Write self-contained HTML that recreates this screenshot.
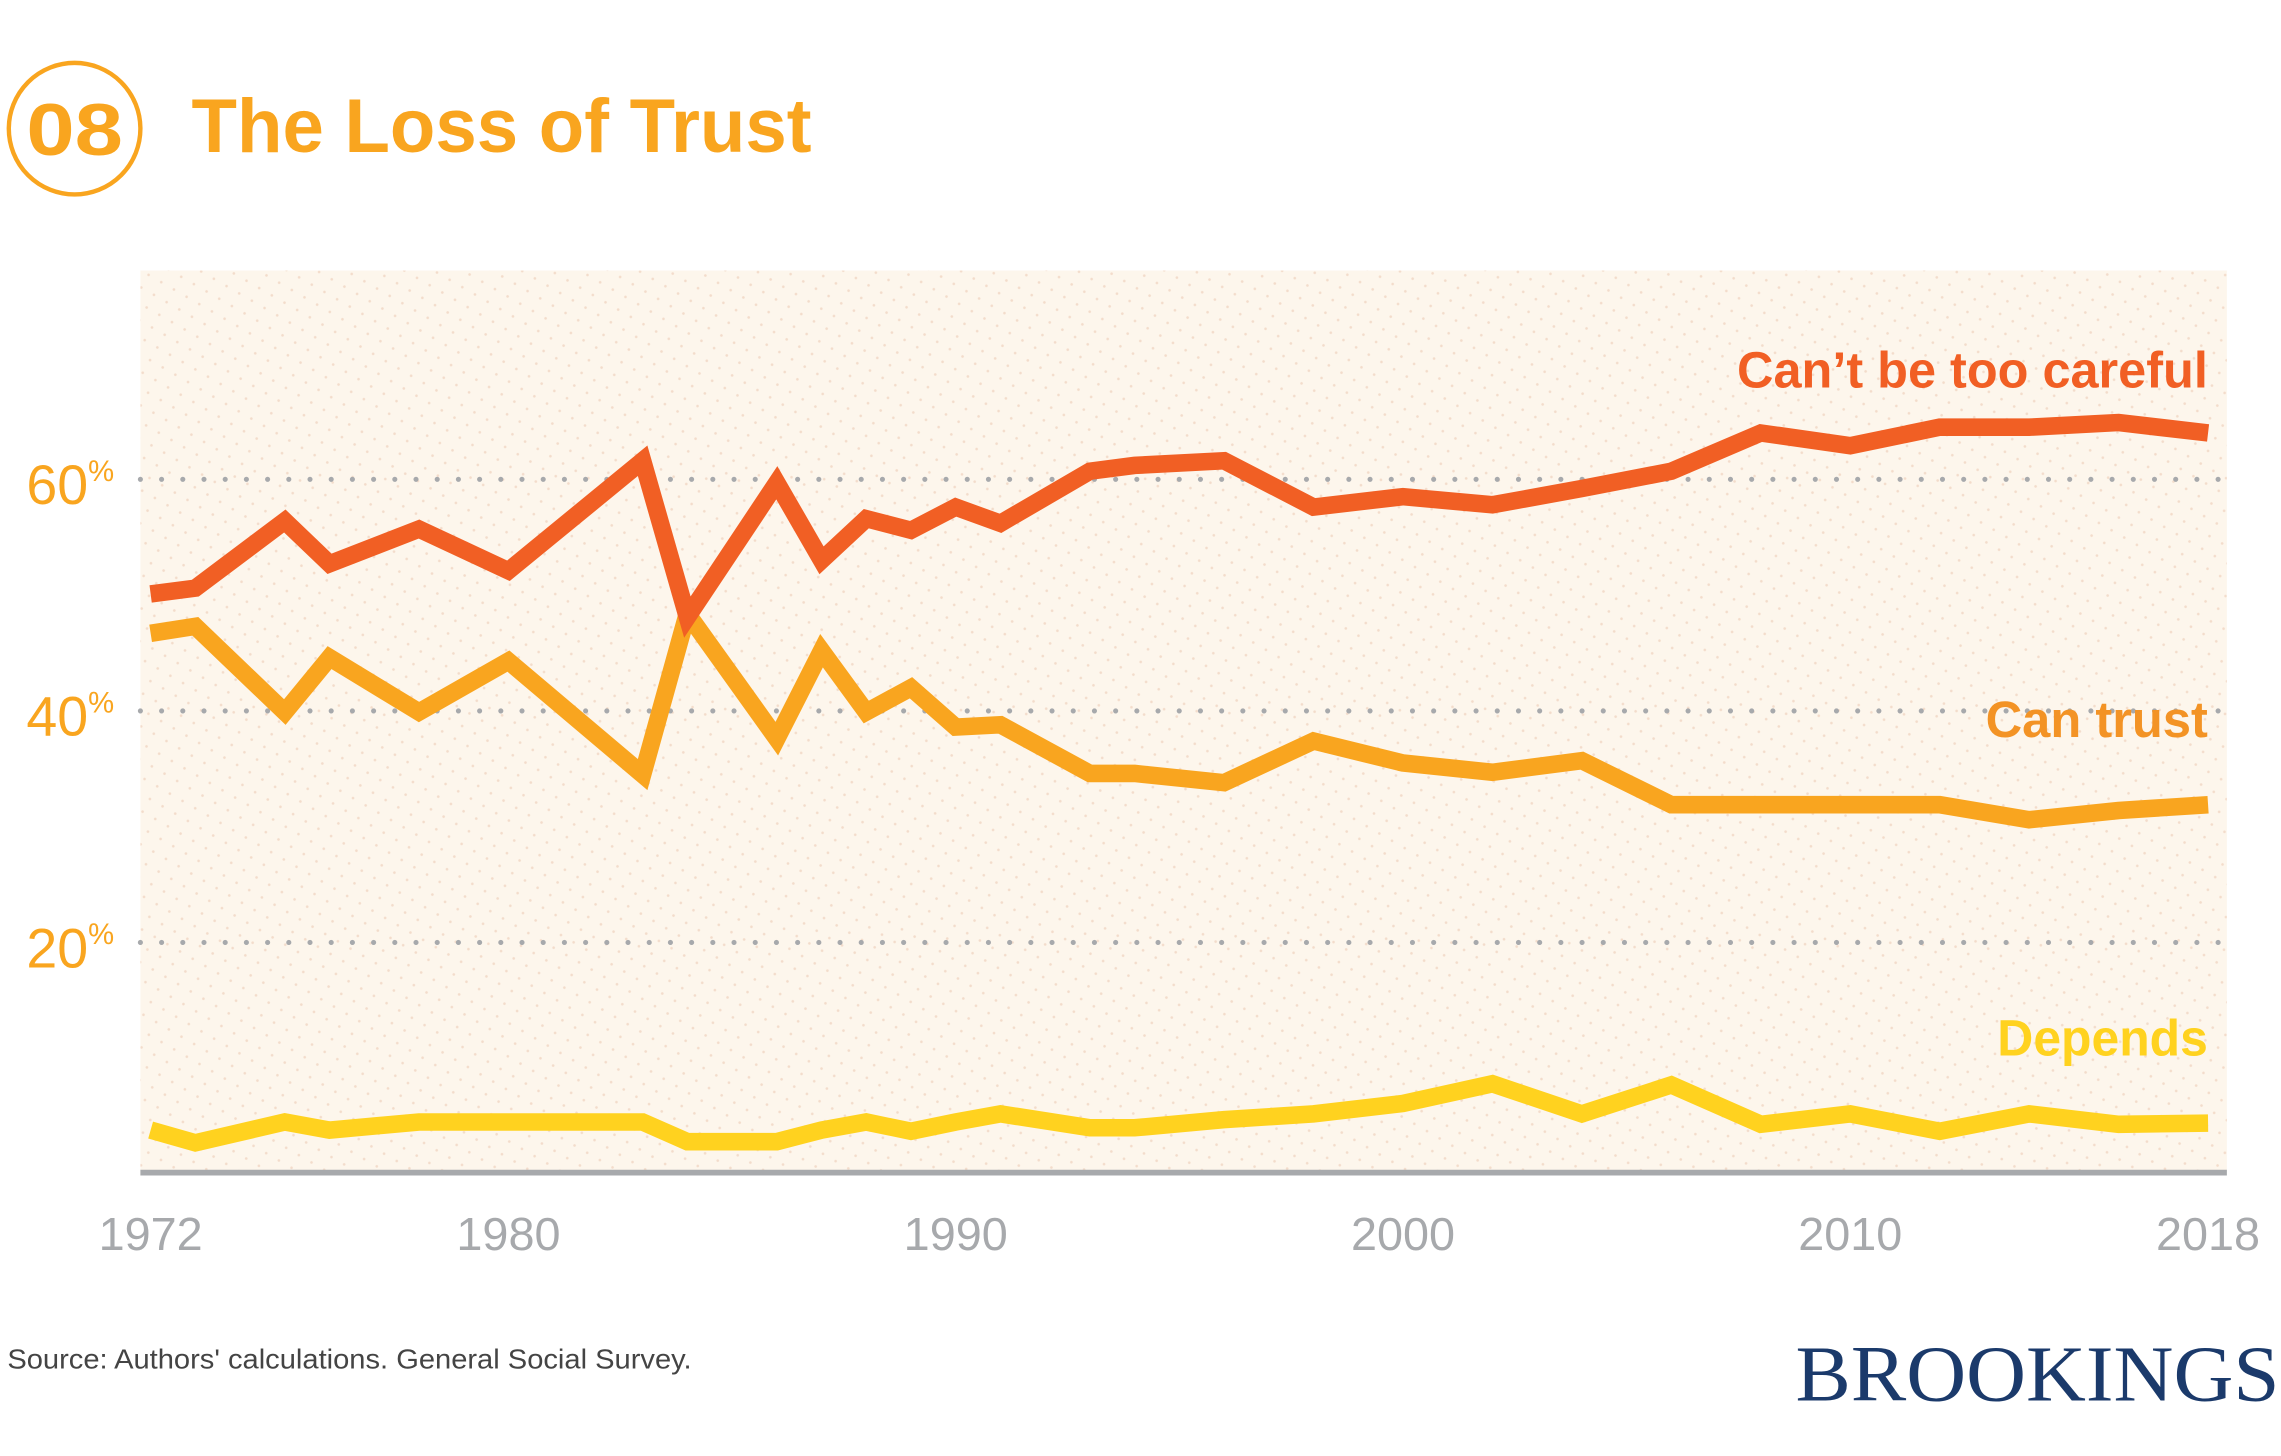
<!DOCTYPE html>
<html><head><meta charset="utf-8"><style>
html,body{margin:0;padding:0;background:#fff;}
svg{display:block;}
</style></head><body>
<svg id="chart" width="2281" height="1456" viewBox="0 0 1560 995.8" xmlns="http://www.w3.org/2000/svg">
<defs>
<pattern id="dots" width="10" height="10" patternUnits="userSpaceOnUse" patternTransform="rotate(30)">
<circle cx="2" cy="2" r="0.9" fill="#f3dccb"/>
</pattern>
</defs>
<circle cx="51" cy="88" r="45" fill="none" stroke="#F9A51F" stroke-width="3"/>
<text x="51" y="106" text-anchor="middle" font-family="Liberation Sans, sans-serif" font-weight="bold" font-size="50" fill="#F9A51F" textLength="66" lengthAdjust="spacingAndGlyphs">08</text>
<text x="131" y="104" font-family="Liberation Sans, sans-serif" font-weight="bold" font-size="52" fill="#F9A51F" textLength="424" lengthAdjust="spacingAndGlyphs">The Loss of Trust</text>
<rect x="96" y="185" width="1427" height="616" fill="#FDF6EC"/>
<rect x="96" y="185" width="1427" height="616" fill="url(#dots)"/>
<g id="grid"></g>
<g id="ylabels"></g>
<line x1="96" x2="1523" y1="802" y2="802" stroke="#a7a9ac" stroke-width="4"/>
<g id="xlabels"></g>
<g id="series"></g>
<text x="1510" y="265" text-anchor="end" font-family="Liberation Sans, sans-serif" font-weight="bold" font-size="35" fill="#F15F24" textLength="322" lengthAdjust="spacingAndGlyphs">Can’t be too careful</text>
<text x="1510" y="504" text-anchor="end" font-family="Liberation Sans, sans-serif" font-weight="bold" font-size="35" fill="#F39325" textLength="152" lengthAdjust="spacingAndGlyphs">Can trust</text>
<text x="1510" y="722" text-anchor="end" font-family="Liberation Sans, sans-serif" font-weight="bold" font-size="35" fill="#FFD21F" textLength="144" lengthAdjust="spacingAndGlyphs">Depends</text>
<text x="5" y="936" font-family="Liberation Sans, sans-serif" font-size="19" fill="#444" textLength="468" lengthAdjust="spacingAndGlyphs">Source: Authors' calculations. General Social Survey.</text>
<text x="1228" y="958" font-family="Liberation Serif, serif" font-size="54" fill="#1B3A6B" textLength="331" lengthAdjust="spacingAndGlyphs">BROOKINGS</text>
</svg>
<script>
const years = [1972,1973,1975,1976,1978,1980,1983,1984,1986,1987,1988,1989,1990,1991,1993,1994,1996,1998,2000,2002,2004,2006,2008,2010,2012,2014,2016,2018];
const cantBeTooCareful = [50.1,50.6,56.4,52.7,55.7,52.1,61.6,48.1,59.7,53.0,56.6,55.6,57.6,56.2,60.7,61.2,61.6,57.6,58.5,57.8,59.2,60.7,64.0,62.9,64.5,64.5,64.9,64.0];
const canTrust = [46.7,47.3,39.9,44.6,39.9,44.3,34.5,48.4,37.6,45.2,39.9,42.0,38.6,38.8,34.6,34.6,33.8,37.4,35.5,34.7,35.7,31.9,31.9,31.9,31.9,30.6,31.4,31.9];
const depends = [3.8,2.7,4.5,3.8,4.5,4.5,4.5,2.8,2.8,3.8,4.5,3.7,4.5,5.2,4.0,4.0,4.7,5.2,6.1,7.8,5.2,7.7,4.3,5.2,3.7,5.2,4.3,4.4];
const yTicks = [20,40,60];
const xTicks = [1972,1980,1990,2000,2010,2018];

const NS = 'http://www.w3.org/2000/svg';
function x(yr){ return 103 + (yr-1972)*30.59; }
function y(v){ return 803 - v*7.92; }

const grid = document.getElementById('grid');
const yl = document.getElementById('ylabels');
yTicks.forEach(t=>{
  const l = document.createElementNS(NS,'line');
  
  
  l.setAttribute('x1',96); l.setAttribute('x2',1523);
  l.setAttribute('y1',y(t)); l.setAttribute('y2',y(t));
  l.setAttribute('stroke','#a7a9ac'); l.setAttribute('stroke-width',3.5);
  l.setAttribute('stroke-linecap','round'); l.setAttribute('stroke-dasharray','0 14.5');
  grid.appendChild(l);
  const tx = document.createElementNS(NS,'text');
  
  
  tx.setAttribute('x',18); tx.setAttribute('y',y(t)+17);
  tx.setAttribute('font-family','Liberation Sans, sans-serif');
  tx.setAttribute('font-size',38); tx.setAttribute('fill','#F9A51F');
  tx.innerHTML = t + '<tspan font-size="20" dy="-16">%</tspan>';
  yl.appendChild(tx);
});
const xl = document.getElementById('xlabels');
xTicks.forEach(t=>{
  const tx = document.createElementNS(NS,'text');
  
  
  tx.setAttribute('x',x(t)); tx.setAttribute('y',855);
  tx.setAttribute('text-anchor','middle');
  tx.setAttribute('font-family','Liberation Sans, sans-serif');
  tx.setAttribute('font-size',32); tx.setAttribute('fill','#a7a9ac');
  tx.textContent = t;
  xl.appendChild(tx);
});
const ser = document.getElementById('series');
[['depends-line',depends,'#FFD21F'],['can-trust-line',canTrust,'#F9A51F'],['cant-be-too-careful-line',cantBeTooCareful,'#F15F24']].forEach(s=>{
  const p = document.createElementNS(NS,'polyline');
  
  
  p.setAttribute('points', years.map((yr,i)=>x(yr)+','+y(s[1][i])).join(' '));
  p.setAttribute('fill','none'); p.setAttribute('stroke',s[2]);
  p.setAttribute('stroke-width',12); p.setAttribute('stroke-linejoin','miter');
  p.setAttribute('stroke-miterlimit',4);
  ser.appendChild(p);
});
</script>
</body></html>
